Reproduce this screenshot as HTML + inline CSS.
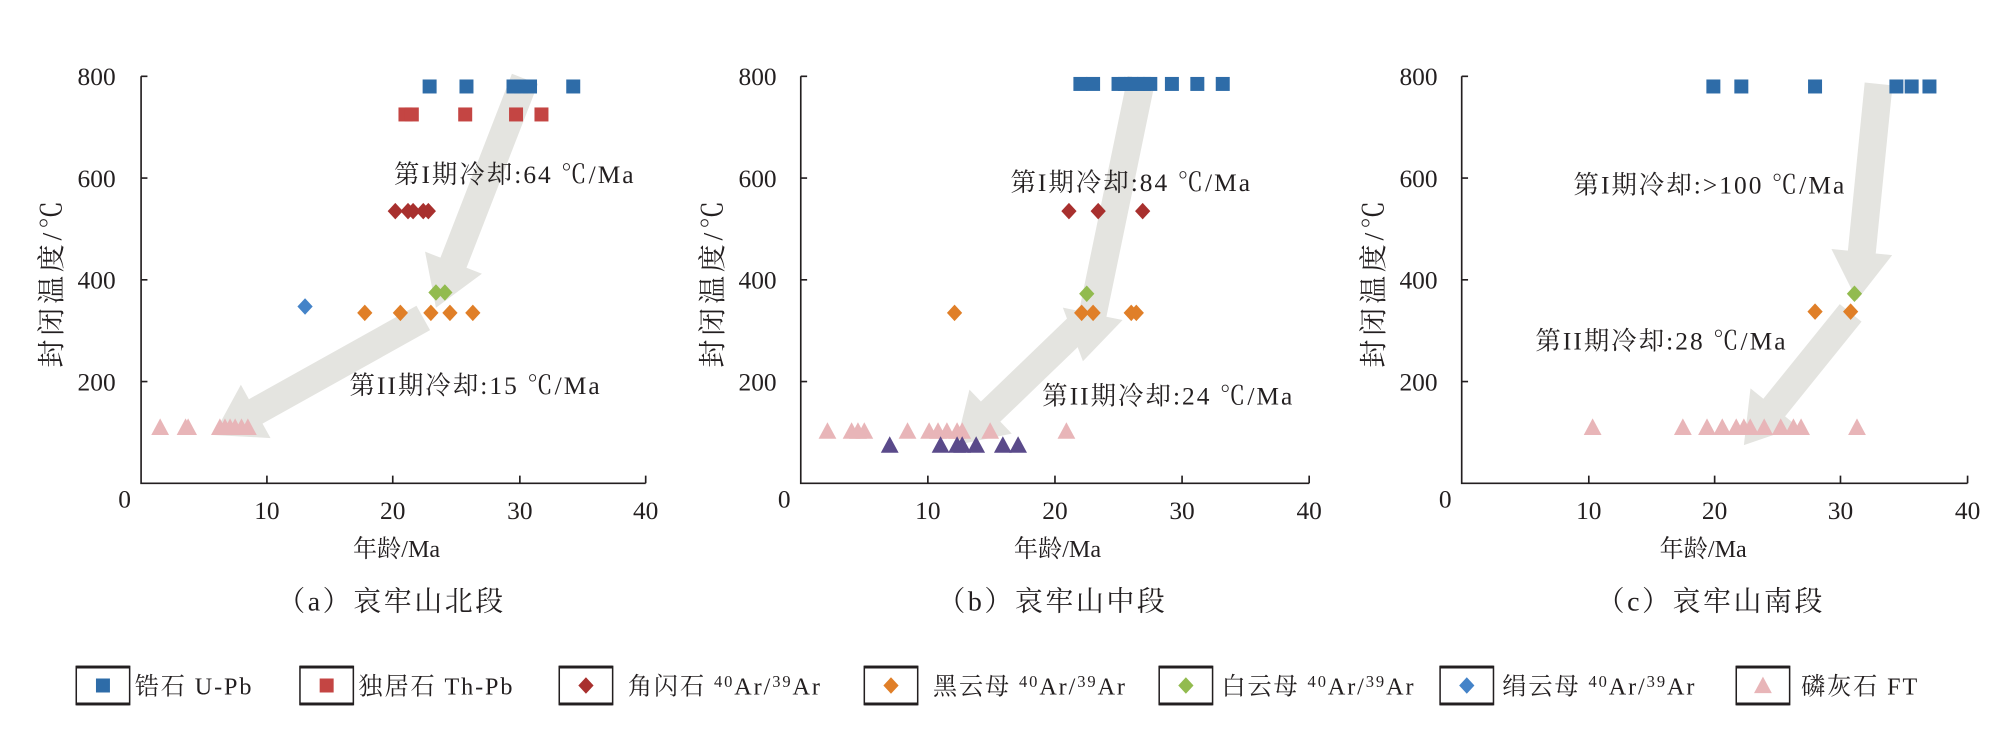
<!DOCTYPE html>
<html><head><meta charset="utf-8">
<style>
html,body{margin:0;padding:0;background:#fff;}
svg{display:block;}
text{font-family:"Liberation Serif","Noto Serif CJK SC",serif;fill:#231f20;}
</style></head>
<body>
<svg id="s" width="1993" height="744" viewBox="0 0 1568 585" preserveAspectRatio="none" xmlns="http://www.w3.org/2000/svg">
<g id="arrows"></g>
<g id="axes" stroke="#231f20" stroke-width="1.3" fill="none">
<path d="M111,60 V380 H508"/>
<path d="M111,60 h5 M111,140 h5 M111,220 h5 M111,300 h5 M210,380 v-6 M309,380 v-6 M409,380 v-6 M508,380 v-6"/>
<path d="M630,60 V380 H1030"/>
<path d="M630,60 h5 M630,140 h5 M630,220 h5 M630,300 h5 M730,380 v-6 M830,380 v-6 M930,380 v-6 M1030,380 v-6"/>
<path d="M1150,60 V380 H1548"/>
<path d="M1150,60 h5 M1150,140 h5 M1150,220 h5 M1150,300 h5 M1250,380 v-6 M1349,380 v-6 M1448,380 v-6 M1548,380 v-6"/>
</g>
<g font-size="20" text-anchor="end">
<text x="91" y="67">800</text><text x="91" y="147">600</text><text x="91" y="227">400</text><text x="91" y="307">200</text><text x="103" y="399">0</text>
<text x="611" y="67">800</text><text x="611" y="147">600</text><text x="611" y="227">400</text><text x="611" y="307">200</text><text x="622" y="399">0</text>
<text x="1131" y="67">800</text><text x="1131" y="147">600</text><text x="1131" y="227">400</text><text x="1131" y="307">200</text><text x="1142" y="399">0</text>
</g>
<g font-size="20" text-anchor="middle">
<text x="210" y="408">10</text><text x="309" y="408">20</text><text x="409" y="408">30</text><text x="508" y="408">40</text>
<text x="730" y="408">10</text><text x="830" y="408">20</text><text x="930" y="408">30</text><text x="1030" y="408">40</text>
<text x="1250" y="408">10</text><text x="1349" y="408">20</text><text x="1448" y="408">30</text><text x="1548" y="408">40</text>
</g>
<g font-size="19" text-anchor="middle">
<text x="312" y="438">年龄/Ma</text><text x="832" y="438">年龄/Ma</text><text x="1340" y="438">年龄/Ma</text>
</g>
<g font-size="22" text-anchor="middle" letter-spacing="3">
<text transform="translate(48,222) rotate(-90)">封闭温度/℃</text>
<text transform="translate(568,222) rotate(-90)">封闭温度/℃</text>
<text transform="translate(1088,222) rotate(-90)">封闭温度/℃</text>
</g>
<g font-size="22" text-anchor="middle" letter-spacing="2">
<text x="308" y="480">（a）哀牢山北段</text><text x="828" y="480">（b）哀牢山中段</text><text x="1346" y="480">（c）哀牢山南段</text>
</g>
<g id="pts"></g>
<g font-size="20" letter-spacing="1.6">
<text x="310" y="144">第I期冷却:64 ℃/Ma</text>
<text x="275" y="310">第II期冷却:15 ℃/Ma</text>
<text x="795" y="150">第I期冷却:84 ℃/Ma</text>
<text x="820" y="318">第II期冷却:24 ℃/Ma</text>
<text x="1238" y="152">第I期冷却:&gt;100 ℃/Ma</text>
<text x="1208" y="275">第II期冷却:28 ℃/Ma</text>
</g>
<g id="leg"></g>
<g font-size="19" letter-spacing="1.5">
<text x="106" y="546">锆石 U-Pb</text>
<text x="282" y="546">独居石 Th-Pb</text>
<text x="494" y="546">角闪石 <tspan font-size="13" dy="-6">40</tspan><tspan dy="6">Ar/</tspan><tspan font-size="13" dy="-6">39</tspan><tspan dy="6">Ar</tspan></text>
<text x="734" y="546">黑云母 <tspan font-size="13" dy="-6">40</tspan><tspan dy="6">Ar/</tspan><tspan font-size="13" dy="-6">39</tspan><tspan dy="6">Ar</tspan></text>
<text x="961" y="546">白云母 <tspan font-size="13" dy="-6">40</tspan><tspan dy="6">Ar/</tspan><tspan font-size="13" dy="-6">39</tspan><tspan dy="6">Ar</tspan></text>
<text x="1182" y="546">绢云母 <tspan font-size="13" dy="-6">40</tspan><tspan dy="6">Ar/</tspan><tspan font-size="13" dy="-6">39</tspan><tspan dy="6">Ar</tspan></text>
<text x="1417" y="546">磷灰石 FT</text>
</g>
</svg>
<script>
var NS="http://www.w3.org/2000/svg";
function el(g,t,a){var e=document.createElementNS(NS,t);for(var k in a)e.setAttribute(k,a[k]);document.getElementById(g).appendChild(e);}
function arrow(x1,y1,x2,y2){var dx=x2-x1,dy=y2-y1,L=Math.hypot(dx,dy),ux=dx/L,uy=dy/L,px=-uy,py=ux,w=11,hw=24,hl=38;
var bx=x2-ux*hl,by=y2-uy*hl;var p=[[x1+px*w,y1+py*w],[bx+px*w,by+py*w],[bx+px*hw,by+py*hw],[x2,y2],[bx-px*hw,by-py*hw],[bx-px*w,by-py*w],[x1-px*w,y1-py*w]];
el("arrows","polygon",{points:p.map(function(q){return q.join(",")}).join(" "),fill:"#e4e4e0"});}
arrow(413,62,343,242);arrow(333,250,168,342);
arrow(898,62,852,284);arrow(860,246,752,350);
arrow(1478,66,1461,236);arrow(1456,246,1372,350);
var C={bl:"#2e6ca8",rd:"#c44543",dr:"#a8302e",or:"#e07f28",gr:"#92bb4f",lb:"#4483c8",pk:"#e8b5b8",pu:"#5a4a8a"};
function sq(x,y,c,g){el(g||"pts","rect",{x:x-5.5,y:y-5.5,width:11,height:11,fill:c});}
function di(x,y,c,g){el(g||"pts","polygon",{points:[x,y-6.5,x+6,y,x,y+6.5,x-6,y].join(","),fill:c});}
function tr(x,y,c,g){el(g||"pts","polygon",{points:[x,y-7,x+7,y+6,x-7,y+6].join(","),fill:c});}
[338,367,404,410,417,451].forEach(function(x){sq(x,68,C.bl)});
[319,324,366,406,426].forEach(function(x){sq(x,90,C.rd)});
[311,321,325,333,337].forEach(function(x){di(x,166,C.dr)});
[343,350].forEach(function(x){di(x,230,C.gr)});
di(240,241,C.lb);
[287,315,339,354,372].forEach(function(x){di(x,246,C.or)});
[126,146,148,173,177,181,185,190,195].forEach(function(x){tr(x,336,C.pk)});
[850,860,880,885,890,895,900,905,922,942,962].forEach(function(x){sq(x,66,C.bl)});
[841,864,899].forEach(function(x){di(x,166,C.dr)});
di(855,231,C.gr);
[751,851,860,890,894].forEach(function(x){di(x,246,C.or)});
[651,670,675,680,714,731,738,745,753,757,779,839].forEach(function(x){tr(x,339,C.pk)});
[700,740,753,757,768,789,801].forEach(function(x){tr(x,350,C.pu)});
[1348,1370,1428,1492,1504,1518].forEach(function(x){sq(x,68,C.bl)});
di(1459,231,C.gr);
[1428,1456].forEach(function(x){di(x,245,C.or)});
[1253,1324,1343,1355,1366,1372,1377,1388,1401,1411,1417,1461].forEach(function(x){tr(x,336,C.pk)});
var L=[[60,sq,C.bl],[236,sq,C.rd],[440,di,C.dr],[680,di,C.or],[912,di,C.gr],[1133,di,C.lb],[1366,tr,C.pk]];
L.forEach(function(l){el("leg","rect",{x:l[0],y:524,width:42,height:30,fill:"#fff",stroke:"#231f20","stroke-width":1.2});
el("leg","path",{d:"M"+l[0]+",524.5 h42 M"+l[0]+",553.5 h42",stroke:"#231f20","stroke-width":2.2});
l[1](l[0]+21,539,l[2],"leg");});
</script>
</body></html>
